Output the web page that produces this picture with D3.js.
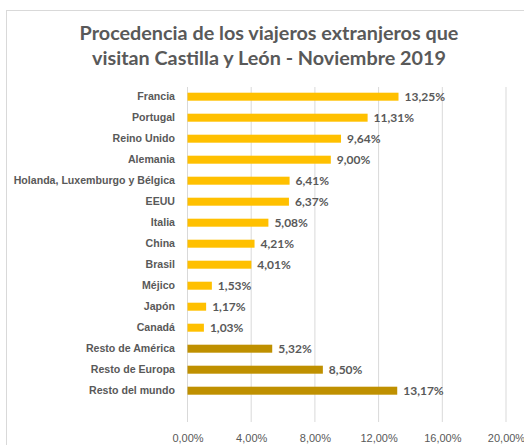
<!DOCTYPE html>
<meta charset="utf-8">
<style>
body { margin:0; background:#fff; }
svg { font-family: Lato, "Open Sans", sans-serif; }
.axis path, .axis line { display:none; }
.axis text { fill:#595959; font-size:11px; }
</style>
<body>
<svg id="vis" width="524" height="445"></svg>
</body>
<script src="https://d3js.org/d3.v7.min.js"></script>
<script>
var categories = ["Francia","Portugal","Reino Unido","Alemania","Holanda, Luxemburgo y Bélgica","EEUU","Italia","China","Brasil","Méjico","Japón","Canadá","Resto de América","Resto de Europa","Resto del mundo"];
var values = [13.25,11.31,9.64,9.00,6.41,6.37,5.08,4.21,4.01,1.53,1.17,1.03,5.32,8.50,13.17];
var groups = ["pais","pais","pais","pais","pais","pais","pais","pais","pais","pais","pais","pais","resto","resto","resto"];
var xTicks = [0,4,8,12,16,20];
var title = ["Procedencia de los viajeros extranjeros que","visitan Castilla y León - Noviembre 2019"];

var svg = d3.select("#vis");
var colours = {pais:"#FFC000", resto:"#BF9000"};
var fmt = function(v){ return v.toFixed(2).replace(".", ",") + "%"; };

// chart frame
svg.append("rect")
  .attr("x", 6.5).attr("y", 10.5)
  .attr("width", 540).attr("height", 460)
  .attr("fill", "none").attr("stroke", "#d9d9d9");

svg.selectAll("text.title").data(title).enter().append("text")
  .attr("class", "title")
  .attr("x", 269).attr("y", function(d,i){ return 40 + i*25; })
  .attr("text-anchor", "middle")
  .style("font-size", "19.8px").style("font-weight", "bold")
  .attr("fill", "#595959")
  .text(function(d){ return d; });

var x = d3.scaleLinear().domain([0, 20]).range([187.5, 506]);
var y = d3.scaleBand().domain(categories).range([86.2, 401.2]).padding(0);
var barH = 8;

svg.selectAll("line.grid").data(xTicks).enter().append("line")
  .attr("class", "grid")
  .attr("x1", function(d){ return x(d); }).attr("x2", function(d){ return x(d); })
  .attr("y1", 87).attr("y2", 422)
  .attr("stroke", "#d9d9d9").attr("stroke-width", 1);

svg.append("g").attr("class", "axis")
  .attr("transform", "translate(0,426)")
  .call(d3.axisBottom(x).tickValues(xTicks).tickSize(0).tickPadding(8)
    .tickFormat(function(d){ return d.toFixed(2).replace(".", ",") + "%"; }));

svg.append("g").attr("class", "axis")
  .attr("transform", "translate(179,0)")
  .call(d3.axisLeft(y).tickSize(0).tickPadding(4))
  .selectAll("text").style("font-weight", "bold").style("font-size", "10.6px");

svg.selectAll("rect.bar").data(categories).enter().append("rect")
  .attr("class", "bar")
  .attr("x", x(0))
  .attr("y", function(d){ return y(d) + y.bandwidth()/2 - barH/2; })
  .attr("width", function(d,i){ return x(values[i]) - x(0); })
  .attr("height", barH)
  .attr("fill", function(d,i){ return colours[groups[i]]; });

svg.selectAll("text.val").data(categories).enter().append("text")
  .attr("class", "val")
  .attr("x", function(d,i){ return x(values[i]) + 6; })
  .attr("y", function(d){ return y(d) + y.bandwidth()/2; })
  .attr("dy", "0.35em")
  .style("font-size", "12px").style("font-weight", "bold")
  .attr("fill", "#595959")
  .text(function(d,i){ return fmt(values[i]); });
</script>
